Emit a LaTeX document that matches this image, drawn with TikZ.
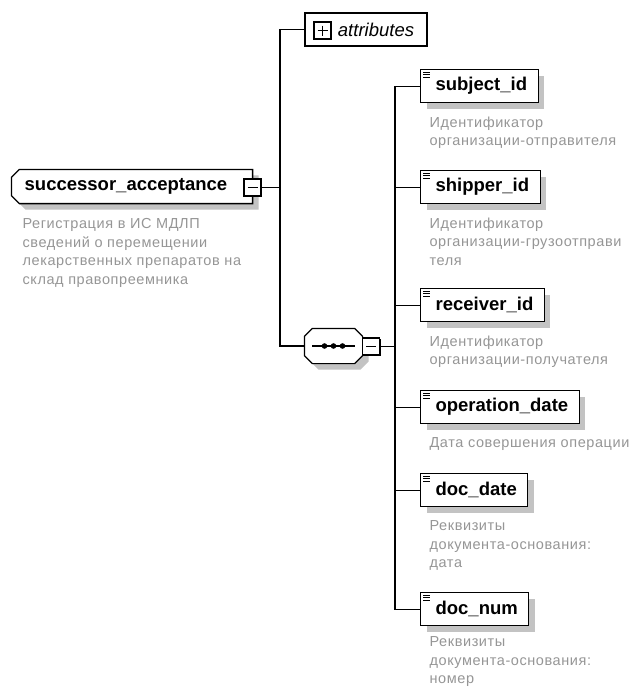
\documentclass[tikz,border=0pt]{standalone}
\usepackage{fontspec}
\setmainfont{Liberation Sans}
\newfontfamily\descfont[LetterSpace=4]{Liberation Sans}
\usetikzlibrary{shadows,backgrounds}
\definecolor{descgray}{RGB}{150,150,150}
\definecolor{shadowgray}{RGB}{195,195,195}

\begin{document}
\begin{tikzpicture}[x=1pt, y=-1pt,
        line width=1.2pt,
        lbl/.style={font=\fontsize{18.5}{20}\selectfont\bfseries},
        shade/.style={drop shadow={shadow xshift=6pt, shadow yshift=-6pt, fill=shadowgray, opacity=1}},
        elem/.style={lbl, draw, fill=white, shade, anchor=north west, minimum height=33pt, inner ysep=0pt, inner xsep=0pt,
          execute at begin node={\hspace*{15pt}}, execute at end node={\hspace*{11pt}}},
        desc/.style={font=\descfont\fontsize{14.5}{18.5}\selectfont, text=descgray, align=left, inner sep=0pt, anchor=north west},
        toggle/.style={draw, fill=white, minimum size=17pt, inner sep=0pt,
          drop shadow={shadow xshift=1.2pt, shadow yshift=-1.2pt, fill=black, opacity=1}},
        minus/.style={toggle, path picture={\draw[line width=1.2pt] ([xshift=3.5pt]path picture bounding box.west) -- ([xshift=-3.5pt]path picture bounding box.east);}},
        plus/.style={toggle, path picture={
          \draw[line width=1.2pt] ([xshift=3.5pt]path picture bounding box.west) -- ([xshift=-3.5pt]path picture bounding box.east);
          \draw[line width=1.2pt] ([yshift=-3.5pt]path picture bounding box.north) -- ([yshift=3.5pt]path picture bounding box.south);}}
      ]
        \begin{scope}[on background layer]
          \fill[white] (0,0) rectangle (631,688);
        \end{scope}
        \useasboundingbox (0,0) rectangle (631,688);

        % root element
        \node[lbl, minimum width=240pt, minimum height=33pt, inner sep=0pt]
          (root) at (132,186.5) {successor\_acceptance\hspace*{12pt}};
        \begin{scope}[on background layer]
          \draw[draw=black, line width=1.3pt, fill=white, shade] ([xshift=8pt]root.north west) -- (root.north east) -- (root.south east)
            -- ([xshift=8pt]root.south west) -- ([yshift=8pt]root.south west) -- ([yshift=-8pt]root.north west) -- cycle;
        \end{scope}
        \node[minus] (rootminus) at (252.5,187.5) {};
        \node[desc] (rootdesc) at (22,218) {Регистрация в ИС МДЛП\\сведений о перемещении\\лекарственных препаратов на\\склад правопреемника};

        % attributes
        \node[draw, fill=white, minimum width=122pt, minimum height=33pt, inner sep=0pt,
          font=\fontsize{18.5}{20}\selectfont\itshape] (attrs) at (366,29.5) {\hspace*{20pt}attributes};
        \node[plus] (attrsplus) at (322.5,30.5) {};

        % sequence
        \node[minimum width=57pt, minimum height=34pt, inner sep=0pt] (seq) at (333.5,346) {};
        \draw[fill=white, shade] ([xshift=8pt]seq.north west) -- ([xshift=-8pt]seq.north east) -- ([yshift=-8pt]seq.north east)
          -- ([yshift=8pt]seq.south east) -- ([xshift=-8pt]seq.south east) -- ([xshift=8pt]seq.south west)
          -- ([yshift=8pt]seq.south west) -- ([yshift=-8pt]seq.north west) -- cycle;
        \draw ([xshift=8pt]seq.west) -- ([xshift=-8pt]seq.east);
        \foreach \dx in {-9,0,9}
          \fill ([xshift=\dx pt]seq.center) circle (2.8pt);
        \node[minus] (seqminus) at (371,346.5) {};

        % child elements
        \node[elem] (subj) at (420,69) {subject\_id};
        \node[elem] (shipper) at (420,170) {shipper\_id};
        \node[elem] (recv) at (420,288) {receiver\_id};
        \node[elem] (opdate) at (420,390) {operation\_date};
        \node[elem] (docdate) at (420,473) {doc\_date};
        \node[elem] (docnum) at (420,592) {doc\_num};
        \foreach \n in {subj,shipper,recv,opdate,docdate,docnum}
          \foreach \dy in {3,5.5,8}
            \draw[line width=0.8pt] ([xshift=3pt,yshift=-\dy pt]\n.north west) -- ++(7,0);

        \node[desc] (subjdesc) at (429,116) {Идентификатор\\организации-отправителя};
        \node[desc] (shipperdesc) at (429,217) {Идентификатор\\организации-грузоотправи\\теля};
        \node[desc] (recvdesc) at (429,335) {Идентификатор\\организации-получателя};
        \node[desc] (opdatedesc) at (429,437) {Дата совершения операции};
        \node[desc] (docdatedesc) at (429,520) {Реквизиты\\документа-основания:\\дата};
        \node[desc] (docnumdesc) at (429,636) {Реквизиты\\документа-основания:\\номер};

        % connectors
        \coordinate (rootfork) at (280,187.5);
        \coordinate (seqfork) at (395,346.5);
        \draw (rootminus.east) -- (rootfork);
        \draw (rootfork) |- (attrs.west);
        \draw (rootfork) |- (seq.west);
        \draw (seqminus.east) -- (seqfork);
        \foreach \n in {subj,shipper,recv,opdate,docdate,docnum}
          \draw (seqfork) |- (\n.west);
      \end{tikzpicture}
\end{document}
